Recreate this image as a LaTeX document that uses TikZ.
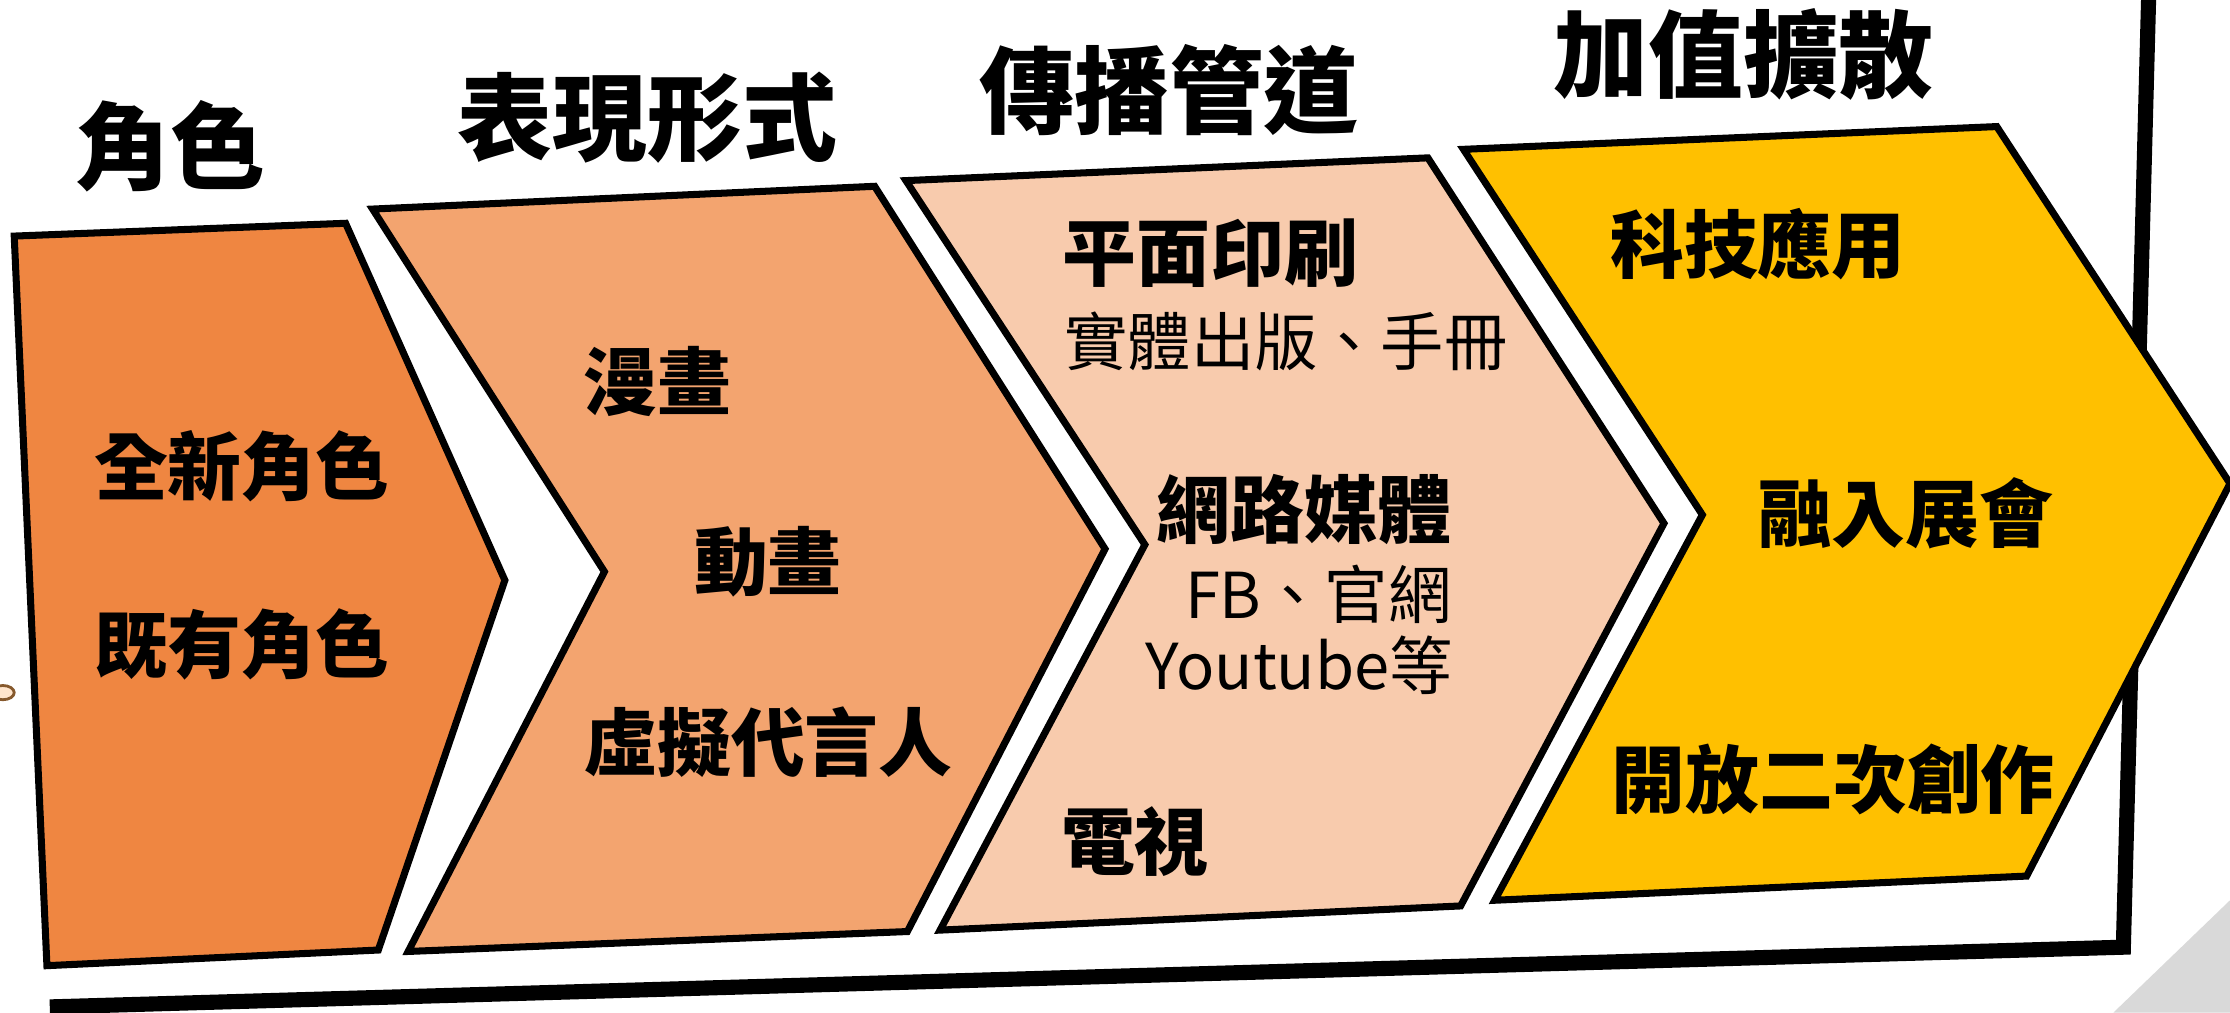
\documentclass[tikz,border=0pt]{standalone}
\usepackage{fontspec}
\setmainfont{Noto Sans CJK TC}
\usepackage{tikz}
\usetikzlibrary{positioning}

\definecolor{rolecol}{HTML}{EF8641}
\definecolor{formcol}{HTML}{F3A46F}
\definecolor{channelcol}{HTML}{F8CBAD}
\definecolor{valuecol}{HTML}{FFC000}

\begin{document}
\begin{tikzpicture}[
    x = 0.014222cm, % one reference pixel
    y = -0.014222cm,
    chevron/.style = {draw = black, line width = 2pt, line join = miter},
    heading/.style = {font = \fontsize{27}{30}\selectfont\bfseries, inner sep = 0pt},
    item/.style = {font = \fontsize{21}{24}\selectfont\bfseries, inner sep = 0pt},
    note/.style = {font = \fontsize{18}{21}\selectfont, inner sep = 0pt}
    ]

    \useasboundingbox (0,0) rectangle (1568,712);
    \fill[black!15] (1486,712) -- (1568,633) -- (1568,712) -- cycle;
    \draw[brown!70!black, fill = orange!20, thick] (2,487) ellipse (8 and 5);

    % frame
    \draw[line width = 4.3pt] (35,708) -- (1493,666) -- (1511,-10);

    % chevrons
    \draw[chevron, fill = rolecol] (10,166) -- (243,157) -- (355,408) -- (266,668) -- (33,679) -- cycle;
    \draw[chevron, fill = formcol] (262,147) -- (615,131) -- (777,386) -- (638,655) -- (287,669) -- (425,402) -- cycle;
    \draw[chevron, fill = channelcol] (637,127) -- (1004,111) -- (1170,368) -- (1027,637) -- (661,654) -- (805,383) -- cycle;
    \draw[chevron, fill = valuecol] (1029,105) -- (1404,89) -- (1568,340) -- (1425,616) -- (1051,633) -- (1197,362) -- cycle;

    % headings
    \node[heading] (role) at (120,103) {角色};
    \node[heading] (form) at (455,83) {表現形式};
    \node[heading] (channel) at (822,63) {傳播管道};
    \node[heading] (value) at (1226,38) {加值擴散};

    % role
    \node[item] (new) at (170,328) {全新角色};
    \node[item] (old) at (170,453) {既有角色};

    % form
    \node[item] (comic) at (462,268) {漫畫};
    \node[item] (anime) at (540,395) {動畫};
    \node[item] (vtuber) at (540,522) {虛擬代言人};

    % channel
    \node[item] (print) at (851,178) {平面印刷};
    \node[note, anchor = west] (book) at (748,240) {實體出版、手冊};
    \node[item] (web) at (917,358) {網路媒體};
    \node[note, anchor = east] (fb) at (1021,418) {FB、官網};
    \node[note, anchor = east] (yt) at (1022,468) {Youtube等};
    \node[item] (tv) at (798,592) {電視};

    % value
    \node[item] (tech) at (1236,172) {科技應用};
    \node[item] (expo) at (1340,361) {融入展會};
    \node[item] (fan) at (1289,548) {開放二次創作};
\end{tikzpicture}
\end{document}
